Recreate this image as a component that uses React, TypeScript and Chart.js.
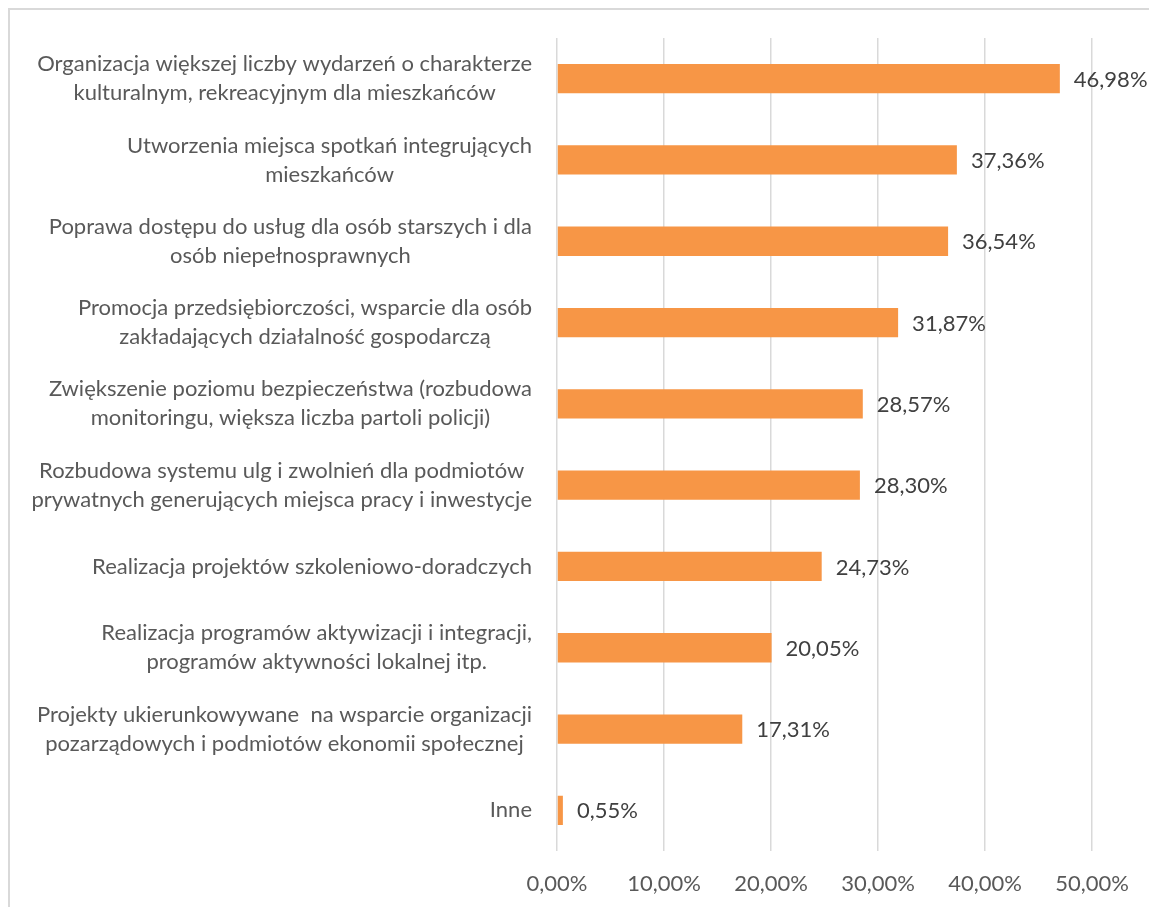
import React, { useEffect, useRef } from "react";
import { Chart, registerables } from "chart.js";

Chart.register(...registerables);

const categories: (string | string[])[] = [
  ["Organizacja większej liczby wydarzeń o charakterze", "kulturalnym, rekreacyjnym dla mieszkańców"],
  ["Utworzenia miejsca spotkań integrujących", "mieszkańców"],
  ["Poprawa dostępu do usług dla osób starszych i dla", "osób niepełnosprawnych"],
  ["Promocja przedsiębiorczości, wsparcie dla osób", "zakładających działalność gospodarczą"],
  ["Zwiększenie poziomu bezpieczeństwa (rozbudowa", "monitoringu, większa liczba partoli policji)"],
  ["Rozbudowa systemu ulg i zwolnień dla podmiotów ", "prywatnych generujących miejsca pracy i inwestycje"],
  "Realizacja projektów szkoleniowo-doradczych",
  ["Realizacja programów aktywizacji i integracji,", "programów aktywności lokalnej itp."],
  ["Projekty ukierunkowywane  na wsparcie organizacji", "pozarządowych i podmiotów ekonomii społecznej"],
  "Inne",
];

const values: number[] = [46.98, 37.36, 36.54, 31.87, 28.57, 28.3, 24.73, 20.05, 17.31, 0.55];

const xTicks: number[] = [0, 10, 20, 30, 40, 50];

const fmt = (v: number) => v.toFixed(2).replace(".", ",") + "%";

const FONT = "Lato, 'Open Sans', sans-serif";

export default function App() {
  const ref = useRef<HTMLCanvasElement | null>(null);

  useEffect(() => {
    document.documentElement.style.overflow = "hidden";
    const canvas = ref.current;
    if (!canvas) return;

    const labelPlugin = {
      id: "catLabels",
      afterDraw(chart: any) {
        const ctx = chart.ctx;
        const yScale = chart.scales.y;
        ctx.save();
        ctx.font = `22px ${FONT}`;
        ctx.fillStyle = "#595959";
        ctx.textAlign = "center";
        ctx.textBaseline = "middle";
        const rightEdge = chart.chartArea.left - 25;
        const lineH = 29;
        categories.forEach((lab, i) => {
          const lines = Array.isArray(lab) ? lab : [lab];
          const maxW = Math.max(...lines.map((l) => ctx.measureText(l.trimEnd()).width));
          const cx = rightEdge - maxW / 2;
          const cy = yScale.getPixelForValue(i);
          const startY = cy - ((lines.length - 1) * lineH) / 2;
          lines.forEach((l, j) => ctx.fillText(l.trimEnd(), cx, startY + j * lineH));
        });
        ctx.restore();
      },
    };

    const valuePlugin = {
      id: "valLabels",
      afterDatasetsDraw(chart: any) {
        const ctx = chart.ctx;
        const meta = chart.getDatasetMeta(0);
        ctx.save();
        ctx.font = `22px ${FONT}`;
        ctx.fillStyle = "#404040";
        ctx.textAlign = "left";
        ctx.textBaseline = "middle";
        meta.data.forEach((bar: any, i: number) => {
          ctx.fillText(fmt(values[i]), bar.x + 14, bar.y + 1);
        });
        ctx.restore();
      },
    };

    const chart = new Chart(canvas, {
      type: "bar",
      data: {
        labels: categories.map((c) => (Array.isArray(c) ? c.join(" ") : c)),
        datasets: [
          {
            data: values,
            backgroundColor: "#F79646",
            borderWidth: 0,
            barPercentage: 0.36,
            categoryPercentage: 1,
          },
        ],
      },
      options: {
        indexAxis: "y",
        responsive: false,
        animation: false,
        devicePixelRatio: 1,
        layout: { padding: { left: 547, right: 46, top: 28, bottom: 19 } },
        plugins: { legend: { display: false }, tooltip: { enabled: false } },
        scales: {
          x: {
            min: 0,
            max: 50,
            afterBuildTicks: (scale: any) => {
              scale.ticks = xTicks.map((v) => ({ value: v }));
            },
            afterFit: (scale: any) => {
              scale.height = 70;
            },
            grid: { color: "#d9d9d9", lineWidth: 1.5, drawTicks: false },
            border: { display: false },
            ticks: {
              padding: 20,
              color: "#595959",
              font: { family: FONT, size: 22 },
              callback: (v: any) => fmt(Number(v)),
            },
          },
          y: {
            display: false,
          },
        },
      },
      plugins: [labelPlugin, valuePlugin],
    });
    return () => chart.destroy();
  }, []);

  return (
    <div
      style={{
        position: "absolute",
        left: 8,
        top: 8,
        width: 1141,
        height: 899,
        borderTop: "2px solid #d9d9d9",
        borderLeft: "2px solid #d9d9d9",
        boxSizing: "border-box",
        overflow: "hidden",
        background: "#fff",
      }}
    >
      <canvas ref={ref} width={1139} height={930} style={{ display: "block" }} />
    </div>
  );
}
